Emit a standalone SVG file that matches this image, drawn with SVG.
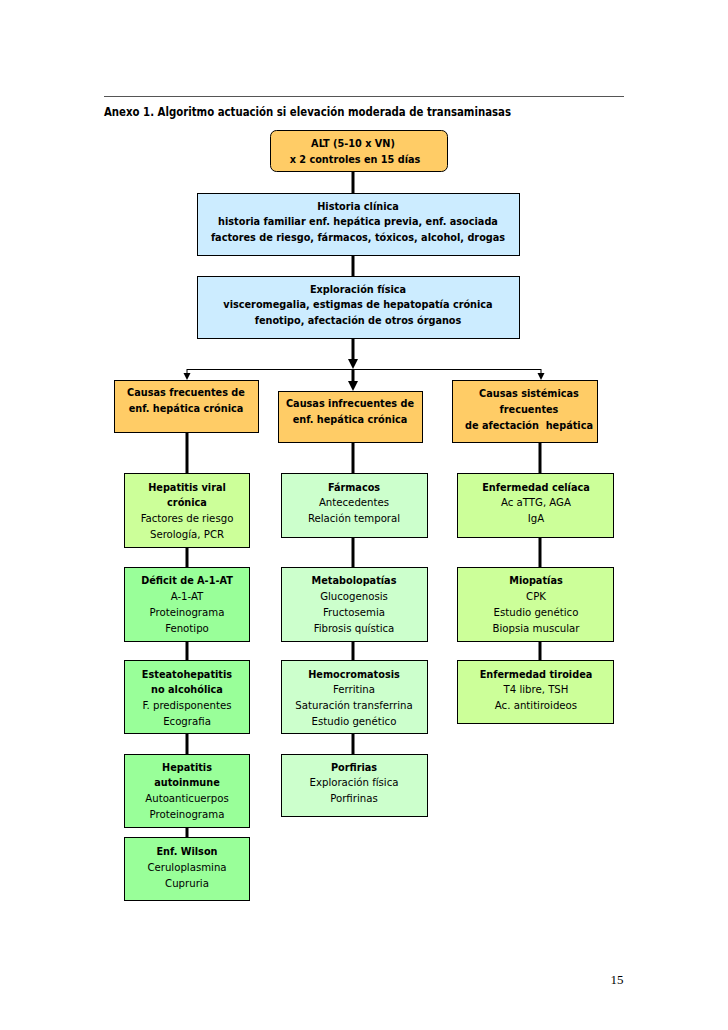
<svg xmlns="http://www.w3.org/2000/svg" width="728" height="1030" viewBox="0 0 728 1030">
<style>
text{font-family:"Liberation Sans Narrow","DejaVu Sans Condensed","Liberation Sans",sans-serif;font-size:11.3px;fill:#000;text-anchor:middle}
.b{font-weight:bold;font-size:10.8px}
.box{stroke:#000;stroke-width:1}
.or{fill:#FFCC66}
.bl{fill:#CCECFF}
.yg{fill:#CCFF99}
.gr{fill:#99FF99}
.lg{fill:#CCFFCC}
.th{stroke:#000;stroke-width:3;fill:none}
.tn{stroke:#000;stroke-width:1;fill:none}
</style>
<rect width="728" height="1030" fill="#fff"/>
<line x1="104" y1="96.5" x2="624" y2="96.5" stroke="#555" stroke-width="1"/>
<text x="104" y="116" class="b" style="text-anchor:start;font-size:12px" textLength="407" lengthAdjust="spacingAndGlyphs">Anexo 1. Algoritmo actuación si elevación moderada de transaminasas</text>

<g id="connectors">
<line class="th" x1="353" y1="171" x2="353" y2="193"/>
<line class="th" x1="353" y1="255" x2="353" y2="276"/>
<line class="th" x1="353" y1="338" x2="353" y2="360"/>
<path d="M348,359 L353,369 L358,359 z" fill="#000"/>
<line class="th" x1="353" y1="369" x2="353" y2="382"/>
<path d="M348,381 L353,391 L358,381 z" fill="#000"/>
<line class="tn" x1="187" y1="369.5" x2="541" y2="369.5"/>
<line class="tn" x1="187" y1="369" x2="187" y2="374"/>
<path d="M183.5,373 L187,380 L190.5,373 z" fill="#000"/>
<line class="tn" x1="541" y1="369" x2="541" y2="374"/>
<path d="M537.5,373 L541,380 L544.5,373 z" fill="#000"/>
<line class="th" x1="187" y1="432" x2="187" y2="473"/>
<line class="th" x1="187" y1="547" x2="187" y2="567"/>
<line class="th" x1="187" y1="641" x2="187" y2="660"/>
<line class="th" x1="187" y1="733" x2="187" y2="754"/>
<line class="th" x1="187" y1="827" x2="187" y2="837"/>
<line class="th" x1="353" y1="442" x2="353" y2="473"/>
<line class="th" x1="353" y1="537" x2="353" y2="567"/>
<line class="th" x1="353" y1="641" x2="353" y2="660"/>
<line class="th" x1="353" y1="733" x2="353" y2="754"/>
<line class="th" x1="540" y1="442" x2="540" y2="473"/>
<line class="th" x1="540" y1="537" x2="540" y2="567"/>
<line class="th" x1="540" y1="641" x2="540" y2="660"/>
</g>

<g id="alt">
<rect class="box or" x="270.5" y="130.5" width="177" height="41" rx="6"/>
<text x="353" y="147" class="b">ALT (5-10 x VN)</text>
<text x="355" y="163" class="b">x 2 controles en 15 días</text>
</g>
<g id="historia">
<rect class="box bl" x="197.5" y="193.5" width="322" height="62"/>
<text x="358" y="210" class="b">Historia clínica</text>
<text x="358" y="225" class="b">historia familiar enf. hepática previa, enf. asociada</text>
<text x="358" y="241" class="b">factores de riesgo, fármacos, tóxicos, alcohol, drogas</text>
</g>
<g id="exploracion">
<rect class="box bl" x="197.5" y="276.5" width="322" height="62"/>
<text x="358" y="293" class="b">Exploración física</text>
<text x="358" y="308" class="b">visceromegalia, estigmas de hepatopatía crónica</text>
<text x="358" y="324" class="b">fenotipo, afectación de otros órganos</text>
</g>

<g id="causas-frecuentes">
<rect class="box or" x="114.5" y="380.5" width="144" height="52"/>
<text x="186" y="396" class="b">Causas frecuentes de</text>
<text x="186" y="412" class="b">enf. hepática crónica</text>
</g>
<g id="causas-infrecuentes">
<rect class="box or" x="278.5" y="391.5" width="144" height="51"/>
<text x="350" y="407" class="b">Causas infrecuentes de</text>
<text x="350" y="423" class="b">enf. hepática crónica</text>
</g>
<g id="causas-sistemicas">
<rect class="box or" x="452.5" y="380.5" width="145" height="62"/>
<text x="529" y="397" class="b">Causas sistémicas</text>
<text x="529" y="413" class="b">frecuentes</text>
<text x="529" y="429" class="b" xml:space="preserve">de afectación  hepática</text>
</g>

<g id="hepatitis-viral">
<rect class="box yg" x="124.5" y="473.5" width="125" height="74"/>
<text x="187" y="491" class="b">Hepatitis viral</text>
<text x="187" y="506" class="b">crónica</text>
<text x="187" y="522">Factores de riesgo</text>
<text x="187" y="538">Serología, PCR</text>
</g>
<g id="deficit">
<rect class="box gr" x="124.5" y="567.5" width="125" height="74"/>
<text x="187" y="584" class="b">Déficit de A-1-AT</text>
<text x="187" y="600">A-1-AT</text>
<text x="187" y="616">Proteinograma</text>
<text x="187" y="632">Fenotipo</text>
</g>
<g id="esteatohepatitis">
<rect class="box gr" x="124.5" y="660.5" width="125" height="73"/>
<text x="187" y="678" class="b">Esteatohepatitis</text>
<text x="187" y="693" class="b">no alcohólica</text>
<text x="187" y="709">F. predisponentes</text>
<text x="187" y="725">Ecografia</text>
</g>
<g id="autoinmune">
<rect class="box gr" x="124.5" y="754.5" width="125" height="73"/>
<text x="187" y="771" class="b">Hepatitis</text>
<text x="187" y="786" class="b">autoinmune</text>
<text x="187" y="802">Autoanticuerpos</text>
<text x="187" y="818">Proteinograma</text>
</g>
<g id="wilson">
<rect class="box gr" x="124.5" y="837.5" width="125" height="63"/>
<text x="187" y="855" class="b">Enf. Wilson</text>
<text x="187" y="871">Ceruloplasmina</text>
<text x="187" y="887">Cupruria</text>
</g>

<g id="farmacos">
<rect class="box lg" x="281.5" y="473.5" width="146" height="64"/>
<text x="354" y="491" class="b">Fármacos</text>
<text x="354" y="506">Antecedentes</text>
<text x="354" y="522">Relación temporal</text>
</g>
<g id="metabolopatias">
<rect class="box lg" x="281.5" y="567.5" width="146" height="74"/>
<text x="354" y="584" class="b">Metabolopatías</text>
<text x="354" y="600">Glucogenosis</text>
<text x="354" y="616">Fructosemia</text>
<text x="354" y="632">Fibrosis quística</text>
</g>
<g id="hemocromatosis">
<rect class="box lg" x="281.5" y="660.5" width="146" height="73"/>
<text x="354" y="678" class="b">Hemocromatosis</text>
<text x="354" y="693">Ferritina</text>
<text x="354" y="709">Saturación transferrina</text>
<text x="354" y="725">Estudio genético</text>
</g>
<g id="porfirias">
<rect class="box lg" x="281.5" y="754.5" width="146" height="62"/>
<text x="354" y="771" class="b">Porfirias</text>
<text x="354" y="786">Exploración física</text>
<text x="354" y="802">Porfirinas</text>
</g>

<g id="celiaca">
<rect class="box yg" x="457.5" y="473.5" width="156" height="64"/>
<text x="536" y="491" class="b">Enfermedad celíaca</text>
<text x="536" y="506">Ac aTTG, AGA</text>
<text x="536" y="522">IgA</text>
</g>
<g id="miopatias">
<rect class="box yg" x="457.5" y="567.5" width="156" height="74"/>
<text x="536" y="584" class="b">Miopatías</text>
<text x="536" y="600">CPK</text>
<text x="536" y="616">Estudio genético</text>
<text x="536" y="632">Biopsia muscular</text>
</g>
<g id="tiroidea">
<rect class="box yg" x="457.5" y="660.5" width="156" height="63"/>
<text x="536" y="678" class="b">Enfermedad tiroidea</text>
<text x="536" y="693">T4 libre, TSH</text>
<text x="536" y="709">Ac. antitiroideos</text>
</g>

<text x="617" y="984" style="font-family:'Liberation Serif',serif;font-size:13px">15</text>
</svg>
